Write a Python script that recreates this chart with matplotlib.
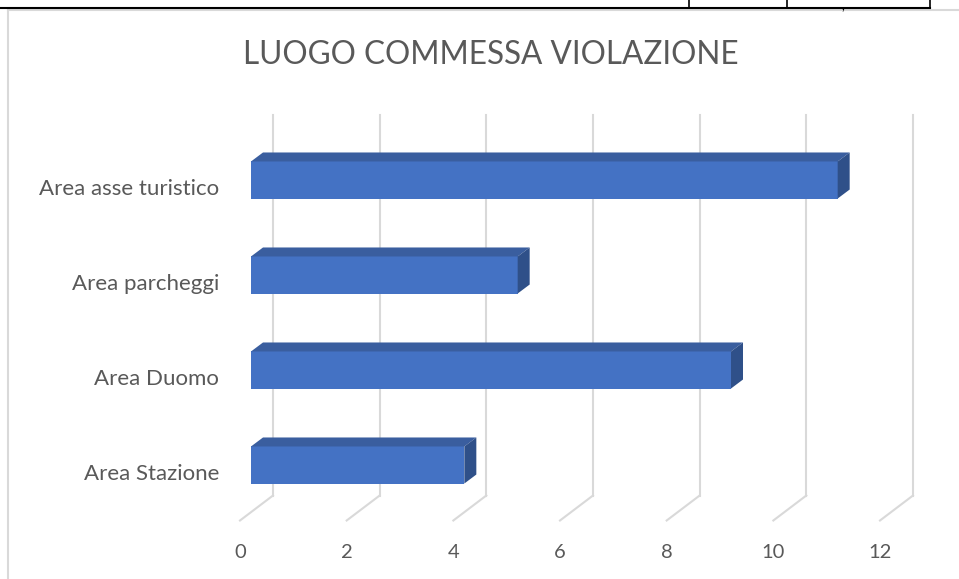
import matplotlib
matplotlib.use('Agg')
import matplotlib.pyplot as plt
from matplotlib.patches import Polygon
from matplotlib.lines import Line2D

categories = ['Area Stazione', 'Area Duomo', 'Area parcheggi', 'Area asse turistico']
values = [4, 9, 5, 11]
x_ticks = [0, 2, 4, 6, 8, 10, 12]
title = 'LUOGO COMMESSA VIOLAZIONE'

FRONT, TOP, SIDE = '#4472C4', '#3A5E9F', '#2F5089'
GRID, TEXT = '#D9D9D9', '#595959'
plt.rcParams['font.family'] = ['Lato', 'DejaVu Sans']

W, H = 959, 579
fig = plt.figure(figsize=(W / 100, H / 100), dpi=100)
ax = fig.add_axes([251 / W, (H - 512.5) / H, 640 / W, 380 / H])
ax.set_xlim(0, 12)
ax.set_ylim(-0.5, 3.5)
ax.axis('off')

# pixels per data unit, used for the fake 3D depth
ppx = 640 / 12
ppy = 380 / 4
bar_h = 0.39
DX, DY = 12 / ppx, 9 / ppy

# back wall gridlines + floor diagonals
for t in x_ticks:
    xb = t + 22 / ppx
    yb = -0.5 + 17 / ppy
    ax.plot([xb, xb], [yb, 3.5 + 18 / ppy], color=GRID, lw=1.5, zorder=1, clip_on=False)
    ax.plot([xb, t - 11 / ppx], [yb, -0.5 - 8 / ppy], color=GRID, lw=1.5, zorder=1, clip_on=False)
    ax.text(t - 11 / ppx, -0.5 - 40 / ppy, str(t), ha='center', va='center',
            fontsize=14.5, color=TEXT)

ypos = list(range(len(categories)))
ax.barh(ypos, values, height=bar_h, color=FRONT, zorder=3, clip_on=False)
for y, v in zip(ypos, values):
    top = y + bar_h / 2
    bot = y - bar_h / 2
    ax.add_patch(Polygon([(0, top), (v, top), (v + DX, top + DY), (DX, top + DY)],
                         closed=True, color=TOP, zorder=3, clip_on=False, lw=0))
    ax.add_patch(Polygon([(v, bot), (v, top), (v + DX, top + DY), (v + DX, bot + DY)],
                         closed=True, color=SIDE, zorder=3, clip_on=False, lw=0))

for y, name in zip(ypos, categories):
    ax.text(-32 / ppx, y - 9 / ppy, name, ha='right', va='center', fontsize=16, color=TEXT)

fig.text(491 / W, 1 - 55 / H, title, ha='center', va='center', fontsize=22.7, color=TEXT)

# chart area border and the table edge above it
fig.add_artist(Line2D([8 / W, 8 / W], [0, 1 - 10 / H], color=GRID, lw=1.5))
fig.add_artist(Line2D([8 / W, 1], [1 - 10 / H, 1 - 10 / H], color=GRID, lw=1.5))
fig.add_artist(Line2D([0, 930 / W], [1 - 7.5 / H, 1 - 7.5 / H], color='black', lw=1.5))
for xv in [689, 787, 930]:
    fig.add_artist(Line2D([xv / W, xv / W], [1 - 7.5 / H, 1], color='black', lw=1.2))
fig.text(843 / W, 1 - 0.5 / H, ',', ha='center', va='top', fontsize=9, color='black')

fig.savefig('out.png', dpi=100)
